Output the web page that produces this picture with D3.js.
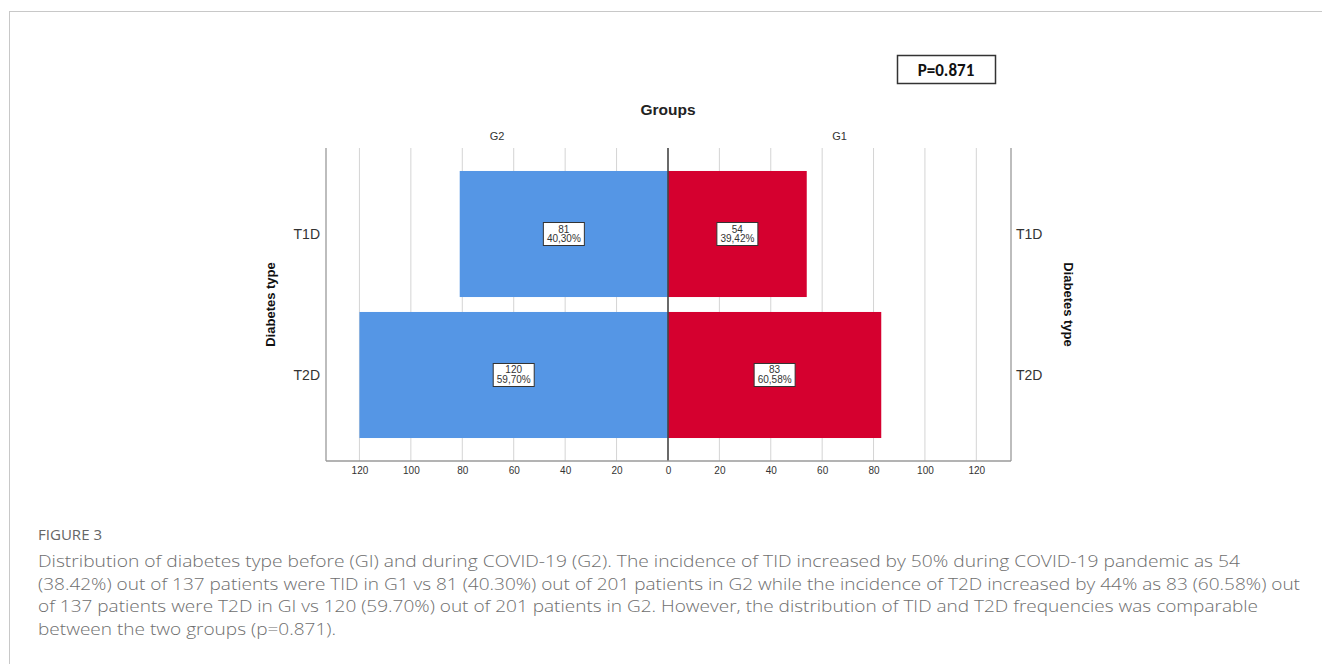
<!DOCTYPE html>
<html>
<head>
<meta charset="utf-8">
<script src="https://cdn.jsdelivr.net/npm/d3@7"></script>
<style>
  body { margin: 0; background: #fff; }
  svg { display: block; }
</style>
</head>
<body>
<svg id="chart" width="1322" height="664"></svg>
<script>
// Data
const categories = ["T1D", "T2D"];
const g1Counts = [54, 83];
const g2Counts = [81, 120];
const g1Pct = ["39,42%", "60,58%"];
const g2Pct = ["40,30%", "59,70%"];
const tickValues = [0, 20, 40, 60, 80, 100, 120];
const captionLines = [
    "Distribution of diabetes type before (GI) and during COVID-19 (G2). The incidence of TID increased by 50% during COVID-19 pandemic as 54",
    "(38.42%) out of 137 patients were TID in G1 vs 81 (40.30%) out of 201 patients in G2 while the incidence of T2D increased by 44% as 83 (60.58%) out",
    "of 137 patients were T2D in GI vs 120 (59.70%) out of 201 patients in G2. However, the distribution of TID and T2D frequencies was comparable",
    "between the two groups (p=0.871)."
];

var svg = d3.select('#chart');
var font = "'Liberation Sans', Arial, sans-serif";

let dims = {
    left: 326,
    mid: 668,
    right: 1011,
    top: 148,
    bottom: 461
};

const xLeft = d3.scaleLinear().domain([133, 0]).range([dims.left, dims.mid]);
const xRight = d3.scaleLinear().domain([0, 133.5]).range([dims.mid, dims.right]);
const y = d3.scaleBand()
    .domain(categories)
    .range([dims.top, dims.bottom])
    .paddingInner(0.106)
    .paddingOuter(0.163);

// outer frame of the figure panel
svg.append('line').attr('x1', 9).attr('x2', 1322).attr('y1', 11.5).attr('y2', 11.5)
    .attr('stroke', '#c8c8c8').attr('stroke-width', 1);
svg.append('line').attr('x1', 9.5).attr('x2', 9.5).attr('y1', 11).attr('y2', 664)
    .attr('stroke', '#c8c8c8').attr('stroke-width', 1);

// gridlines
var grid = svg.append('g');
grid.selectAll('line.gl')
    .data(tickValues.filter(d => d > 0))
    .join(enter => enter.append('line').attr('class', 'gl'))
    .attr('x1', d => xLeft(d)).attr('x2', d => xLeft(d))
    .attr('y1', dims.top).attr('y2', dims.bottom)
    .attr('stroke', '#d4d4d4');
grid.selectAll('line.gr')
    .data(tickValues.filter(d => d > 0))
    .join(enter => enter.append('line').attr('class', 'gr'))
    .attr('x1', d => xRight(d)).attr('x2', d => xRight(d))
    .attr('y1', dims.top).attr('y2', dims.bottom)
    .attr('stroke', '#d4d4d4');

// frame lines
[dims.left, dims.right].forEach(x => {
    svg.append('line').attr('x1', x).attr('x2', x)
        .attr('y1', dims.top).attr('y2', dims.bottom)
        .attr('stroke', '#9a9a9a').attr('stroke-width', 1.3);
});

// bars
var bars = svg.append('g');
bars.selectAll('rect.g2')
    .data(categories)
    .join(enter => enter.append('rect').attr('class', 'g2'))
    .attr('x', (d, i) => xLeft(g2Counts[i]))
    .attr('y', d => y(d))
    .attr('width', (d, i) => xLeft(0) - xLeft(g2Counts[i]))
    .attr('height', y.bandwidth())
    .style('fill', '#5596e5');
bars.selectAll('rect.g1')
    .data(categories)
    .join(enter => enter.append('rect').attr('class', 'g1'))
    .attr('x', xRight(0))
    .attr('y', d => y(d))
    .attr('width', (d, i) => xRight(g1Counts[i]) - xRight(0))
    .attr('height', y.bandwidth())
    .style('fill', '#d5002f');

// center line
svg.append('line').attr('x1', dims.mid).attr('x2', dims.mid)
    .attr('y1', dims.top).attr('y2', dims.bottom)
    .attr('stroke', '#444').attr('stroke-width', 1.6);

// bottom axis line
svg.append('line').attr('x1', dims.left).attr('x2', dims.right)
    .attr('y1', dims.bottom).attr('y2', dims.bottom)
    .attr('stroke', '#9a9a9a').attr('stroke-width', 1.3);

// tick labels
const axL = d3.axisBottom(xLeft).tickValues(tickValues.filter(d => d > 0)).tickSize(0).tickPadding(6);
const axR = d3.axisBottom(xRight).tickValues(tickValues).tickSize(0).tickPadding(6);
[axL, axR].forEach(ax => {
    var g = svg.append('g').attr('transform', `translate(0, ${dims.bottom})`).call(ax);
    g.select('.domain').remove();
    g.selectAll('text').style('font-family', font).style('font-size', '10px').style('fill', '#333');
});

// bar labels
function addLabel(cx, cy, count, pct) {
    var lg = svg.append('g').attr('transform', `translate(${cx}, ${cy})`);
    lg.append('rect')
        .attr('x', -20.5).attr('y', -11.5).attr('width', 41).attr('height', 23)
        .attr('fill', '#fff').attr('stroke', '#333').attr('stroke-width', 1);
    lg.append('text').text(count)
        .attr('y', -1.5).attr('text-anchor', 'middle')
        .style('font-family', font).style('font-size', '10px').style('fill', '#333');
    lg.append('text').text(pct)
        .attr('y', 8).attr('text-anchor', 'middle')
        .style('font-family', font).style('font-size', '10px').style('fill', '#333');
}
categories.forEach((c, i) => {
    var cy = y(c) + y.bandwidth() / 2;
    addLabel((xLeft(g2Counts[i]) + xLeft(0)) / 2, cy, g2Counts[i], g2Pct[i]);
    addLabel((xRight(g1Counts[i]) + xRight(0)) / 2, cy, g1Counts[i], g1Pct[i]);
});

// category labels both sides
svg.selectAll('text.catL')
    .data(categories)
    .join(enter => enter.append('text').attr('class', 'catL'))
    .text(d => d)
    .attr('x', dims.left - 6)
    .attr('y', d => y(d) + y.bandwidth() / 2 + 5)
    .attr('text-anchor', 'end')
    .style('font-family', font).style('font-size', '14px').style('fill', '#333');
svg.selectAll('text.catR')
    .data(categories)
    .join(enter => enter.append('text').attr('class', 'catR'))
    .text(d => d)
    .attr('x', dims.right + 5)
    .attr('y', d => y(d) + y.bandwidth() / 2 + 5)
    .attr('text-anchor', 'start')
    .style('font-family', font).style('font-size', '14px').style('fill', '#333');

// axis titles
var yMid = (dims.top + dims.bottom) / 2;
svg.append('text').text('Diabetes type')
    .attr('transform', `translate(275, ${yMid}) rotate(-90)`)
    .attr('text-anchor', 'middle')
    .style('font-family', font).style('font-size', '13px').style('font-weight', 'bold').style('fill', '#111');
svg.append('text').text('Diabetes type')
    .attr('transform', `translate(1064, ${yMid}) rotate(90)`)
    .attr('text-anchor', 'middle')
    .style('font-family', font).style('font-size', '13px').style('font-weight', 'bold').style('fill', '#111');

svg.append('text').text('Groups')
    .attr('x', dims.mid).attr('y', 115)
    .attr('text-anchor', 'middle')
    .style('font-family', font).style('font-size', '15.5px').style('font-weight', 'bold').style('fill', '#222');
svg.append('text').text('G2')
    .attr('x', (dims.left + dims.mid) / 2).attr('y', 140)
    .attr('text-anchor', 'middle')
    .style('font-family', font).style('font-size', '11px').style('fill', '#333');
svg.append('text').text('G1')
    .attr('x', (dims.mid + dims.right) / 2).attr('y', 140)
    .attr('text-anchor', 'middle')
    .style('font-family', font).style('font-size', '11px').style('fill', '#333');

// p value box
svg.append('rect')
    .attr('x', 897.5).attr('y', 55.5).attr('width', 98).attr('height', 28)
    .attr('fill', '#fff').attr('stroke', '#333').attr('stroke-width', 1.5);
svg.append('text').text('P=0.871')
    .attr('x', 946).attr('y', 76)
    .attr('text-anchor', 'middle')
    .style('font-family', "'Carlito', 'Liberation Sans', sans-serif")
    .style('font-size', '17px').style('font-weight', 'bold').style('fill', '#111');

// caption
var capFont = "'Open Sans', 'Noto Sans', sans-serif";
var capWidths = [1202, 1262, 1220, 298];
svg.append('text').text('FIGURE 3')
    .attr('x', 38).attr('y', 540)
    .attr('textLength', 64)
    .attr('lengthAdjust', 'spacingAndGlyphs')
    .style('font-family', capFont).style('font-size', '14px').style('fill', '#666');
svg.selectAll('text.cap')
    .data(captionLines)
    .join(enter => enter.append('text').attr('class', 'cap'))
    .text(d => d)
    .attr('x', 38)
    .attr('y', (d, i) => 567 + i * 22.5)
    .attr('textLength', (d, i) => capWidths[i])
    .attr('lengthAdjust', 'spacingAndGlyphs')
    .style('font-family', capFont).style('font-size', '16.5px').style('font-weight', 300).style('fill', '#6e6e6e');
</script>
</body>
</html>
